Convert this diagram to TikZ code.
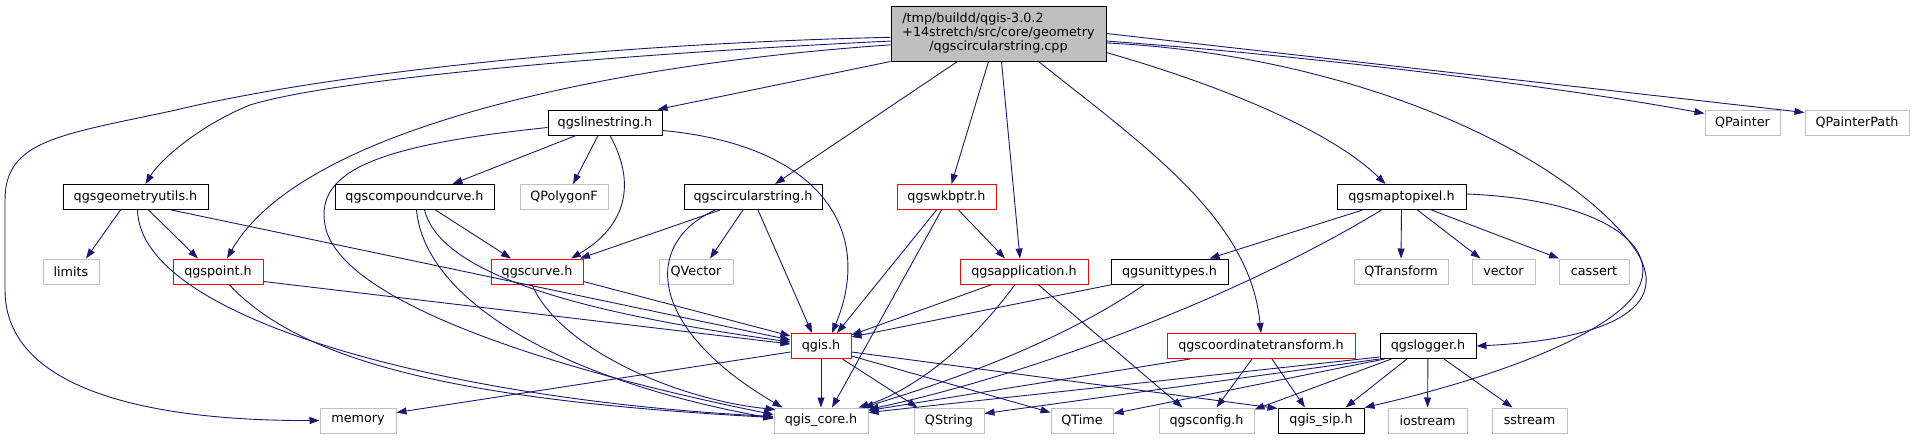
\documentclass[tikz,border=0pt]{standalone}
\usepackage{fontspec}
\setmainfont{DejaVu Sans}
\usepackage{tikz}
\usetikzlibrary{arrows.meta,calc,positioning}

\definecolor{edgeblue}{HTML}{191970}
\definecolor{truncred}{HTML}{FF0000}
\definecolor{extgray}{HTML}{BFBFBF}

\begin{document}
\begin{tikzpicture}[
    x=1pt, y=-1pt,
    block/.style={
        rectangle,
        line width=1pt,
        minimum height=25pt,
        inner sep=0pt,
        align=center,
        font=\fontsize{12.75}{14}\selectfont
    },
    file/.style={block, draw=black},
    trunc/.style={block, draw=truncred},
    ext/.style={block, draw=extgray},
    arrow/.style={
        -{Triangle[length=10pt,width=7pt]},
        draw=edgeblue,
        line width=0.9pt
    }
]
\useasboundingbox (0,0) rectangle (1915,440);

% Top: the source file
\node[block, draw=black, fill=extgray, minimum width=215pt, minimum height=55pt]
    at (998.5,33.5) (main)
    {\begin{tabular}{@{}l@{}}/tmp/buildd/qgis-3.0.2\\+14stretch/src/core/geometry\\\multicolumn{1}{@{}c@{}}{/qgscircularstring.cpp}\end{tabular}};

% Row 1 (y=122)
\node[file, minimum width=114pt] at (605,122.5)  (linestring)   {qgslinestring.h};
\node[ext,  minimum width=75pt]  at (1742.5,122.5) (qpainter)   {QPainter};
\node[ext,  minimum width=104pt] at (1857,122.5) (qpainterpath) {QPainterPath};

% Row 2 (y=197)
\node[file,  minimum width=145pt] at (135.5,197)  (geomutils)  {qgsgeometryutils.h};
\node[file,  minimum width=159pt] at (414.5,197)  (compound)   {qgscompoundcurve.h};
\node[ext,   minimum width=88pt]  at (564,197)    (polygonf)   {QPolygonF};
\node[file,  minimum width=138pt] at (753,197)    (circstr)    {qgscircularstring.h};
\node[trunc, minimum width=99pt]  at (946.5,197)  (wkbptr)     {qgswkbptr.h};
\node[file,  minimum width=129pt] at (1401.5,197) (maptopixel) {qgsmaptopixel.h};

% Row 3 (y=272)
\node[ext,   minimum width=56pt]  at (71,271.5)     (limits)      {limits};
\node[trunc, minimum width=90pt]  at (218,271.5)    (point)       {qgspoint.h};
\node[trunc, minimum width=92pt]  at (537,271.5)    (curve)       {qgscurve.h};
\node[ext,   minimum width=74pt]  at (696,271.5)    (qvector)     {QVector};
\node[trunc, minimum width=128pt] at (1024,271.5)   (application) {qgsapplication.h};
\node[file,  minimum width=117pt] at (1169.5,271.5) (unittypes)   {qgsunittypes.h};
\node[ext,   minimum width=94pt]  at (1401,271.5)   (qtransform)  {QTransform};
\node[ext,   minimum width=63pt]  at (1503.5,271.5) (vector)      {vector};
\node[ext,   minimum width=70pt]  at (1594,271.5)   (cassert)     {cassert};

% Row 4 (y=346)
\node[trunc, minimum width=60pt]  at (821,346)  (qgis)       {qgis.h};
\node[trunc, minimum width=188pt] at (1261,346) (coordtrans) {qgscoordinatetransform.h};
\node[file,  minimum width=96pt]  at (1428,346) (logger)     {qgslogger.h};

% Row 5 (y=421)
\node[ext,  minimum width=76pt] at (358,420.5)    (memory)    {memory};
\node[ext,  minimum width=94pt] at (821,420.5)    (qgiscore)  {qgis\_core.h};
\node[ext,  minimum width=70pt] at (949,420.5)    (qstring)   {QString};
\node[ext,  minimum width=62pt] at (1082,420.5)   (qtime)     {QTime};
\node[ext,  minimum width=95pt] at (1206.5,420.5) (qgsconfig) {qgsconfig.h};
\node[file, minimum width=86pt] at (1321,420.5)   (qgissip)   {qgis\_sip.h};
\node[ext,  minimum width=79pt] at (1427.5,420.5) (iostream)  {iostream};
\node[ext,  minimum width=75pt] at (1529.5,420.5) (sstream)   {sstream};

% Arrows — from the source file
\draw[arrow] (main.182) .. controls (560,45) and (300,80) .. (176,110)
    .. controls (60,135) and (5,140) .. (5,200) -- (5,290)
    .. controls (5,390) and (150,421) .. (memory.west);
\draw[arrow] (main.184) .. controls (600,55) and (330,80) .. (250,105)
    .. controls (200,125) and (160,160) .. ($(geomutils.north)+(10,0)$);
\draw[arrow] (main.186) .. controls (600,65) and (300,130) .. ($(point.north)+(9,0)$);
\draw[arrow] (main.south west) -- ($(linestring.north east)+(-5,0)$);
\draw[arrow] ($(main.south west)+(67,0)$) -- ($(circstr.north)+(22,0)$);
\draw[arrow] ($(main.south)+(-10,0)$) -- ($(wkbptr.north)+(5,0)$);
\draw[arrow] ($(main.south)+(3,0)$) -- ($(application.north)+(-4,0)$);
\draw[arrow] ($(main.south)+(40,0)$) .. controls (1150,150) and (1250,220) .. (coordtrans.north);
\draw[arrow] (main.350) .. controls (1220,85) and (1330,130) .. ($(maptopixel.north)+(-16,0)$);
\draw[arrow] (main.east) -- ($(qpainterpath.west)+(0,-10)$);
\draw[arrow] (main.356) .. controls (1300,55) and (1550,85) .. ($(qpainter.west)+(0,-9)$);
\draw[arrow] (main.355) .. controls (1350,55) and (1560,150) .. (1632,245)
    .. controls (1680,310) and (1600,340) .. (logger.east);

% Arrows — qgslinestring.h
\draw[arrow] ($(linestring.west)+(0,5)$) .. controls (380,145) and (315,170) .. (325,225)
    .. controls (340,310) and (600,380) .. ($(qgiscore.west)+(0,-6)$);
\draw[arrow] ($(linestring.south)+(-29,0)$) -- ($(compound.north)+(38,0)$);
\draw[arrow] ($(linestring.south)+(-7,0)$) -- ($(polygonf.north)+(9,0)$);
\draw[arrow] ($(linestring.south)+(5,0)$) .. controls (640,190) and (620,230) .. ($(curve.north)+(34,0)$);
\draw[arrow] ($(linestring.east)+(0,8)$) .. controls (820,145) and (875,230) .. ($(qgis.north)+(11,0)$);

% Arrows — qgsgeometryutils.h
\draw[arrow] ($(geomutils.south)+(-15,0)$) -- ($(limits.north)+(15,0)$);
\draw[arrow] ($(geomutils.south)+(13,0)$) -- ($(point.north)+(-20,0)$);
\draw[arrow] ($(geomutils.south)+(2,0)$) .. controls (140,320) and (450,400) .. ($(qgiscore.west)+(0,-4)$);
\draw[arrow] ($(geomutils.south east)+(-37,0)$) -- ($(qgis.west)+(0,-6)$);

% Arrows — qgscompoundcurve.h
\draw[arrow] ($(compound.south)+(21,0)$) -- ($(curve.north)+(-26,0)$);
\draw[arrow] ($(compound.south)+(2,0)$) .. controls (425,300) and (560,380) .. ($(qgiscore.west)+(0,-2)$);
\draw[arrow] ($(compound.south)+(10,0)$) .. controls (440,270) and (560,310) .. ($(qgis.west)+(0,-4)$);

% Arrows — qgscircularstring.h
\draw[arrow] ($(circstr.south)+(-33,0)$) -- ($(curve.north)+(43,0)$);
\draw[arrow] ($(circstr.south)+(-10,0)$) -- ($(qvector.north)+(14,0)$);
\draw[arrow] ($(circstr.south)+(5,0)$) -- ($(qgis.north)+(-9,0)$);
\draw[arrow] ($(circstr.south)+(-38,0)$) .. controls (640,245) and (650,330) .. ($(qgiscore.north west)+(9,0)$);

% Arrows — qgswkbptr.h
\draw[arrow] ($(wkbptr.south)+(12,0)$) -- ($(application.north)+(-19,0)$);
\draw[arrow] ($(wkbptr.south)+(-10,0)$) -- ($(qgis.north)+(16,0)$);
\draw[arrow] ($(wkbptr.south)+(-5,0)$) -- ($(qgiscore.north)+(11,0)$);

% Arrows — qgsmaptopixel.h
\draw[arrow] ($(maptopixel.south)+(-39,0)$) -- ($(unittypes.north)+(40,0)$);
\draw[arrow] ($(maptopixel.south)+(-20,0)$) .. controls (1250,290) and (1050,370) .. ($(qgiscore.north east)+(0,2)$);
\draw[arrow] (maptopixel.south) -- (qtransform.north);
\draw[arrow] ($(maptopixel.south)+(16,0)$) -- ($(vector.north)+(-23,0)$);
\draw[arrow] ($(maptopixel.south)+(30,0)$) -- ($(cassert.north)+(-35,0)$);
\draw[arrow] ($(maptopixel.east)+(0,-3)$) .. controls (1620,200) and (1680,260) .. (1620,310)
    .. controls (1560,360) and (1420,395) .. (qgissip.north east);

% Arrows — qgspoint.h, qgscurve.h
\draw[arrow] ($(point.east)+(0,10)$) -- ($(qgis.west)+(0,-2)$);
\draw[arrow] ($(point.south)+(11,0)$) .. controls (300,360) and (450,400) .. ($(qgiscore.west)+(0,-3)$);
\draw[arrow] ($(curve.south east)+(0,-3)$) -- ($(qgis.north west)+(0,3)$);
\draw[arrow] ($(curve.south)+(-5,0)$) .. controls (560,350) and (680,400) .. ($(qgiscore.north west)+(2,2)$);

% Arrows — qgsapplication.h, qgsunittypes.h
\draw[arrow] ($(application.south)+(-32,0)$) -- ($(qgis.north east)+(0,2)$);
\draw[arrow] ($(application.south)+(-9,0)$) .. controls (960,360) and (900,395) .. ($(qgiscore.north east)+(-10,0)$);
\draw[arrow] ($(application.south)+(14,0)$) -- ($(qgsconfig.north)+(-24,0)$);
\draw[arrow] ($(unittypes.south west)+(2,0)$) -- ($(qgis.east)+(0,-9)$);
\draw[arrow] ($(unittypes.south)+(-25,0)$) .. controls (1050,350) and (920,390) .. ($(qgiscore.north east)+(-5,0)$);

% Arrows — qgis.h
\draw[arrow] ($(qgis.west)+(0,6)$) -- ($(memory.east)+(0,-8)$);
\draw[arrow] (qgis) -- (qgiscore);
\draw[arrow] ($(qgis.south east)+(-9,0)$) -- ($(qstring.north west)+(4,0)$);
\draw[arrow] ($(qgis.east)+(0,10)$) -- ($(qtime.west)+(0,-8)$);
\draw[arrow] ($(qgis.east)+(0,6)$) -- ($(qgissip.west)+(0,-12)$);

% Arrows — qgscoordinatetransform.h
\draw[arrow] ($(coordtrans.south)+(-71,0)$) -- ($(qgiscore.east)+(0,-10)$);
\draw[arrow] ($(coordtrans.south)+(-9,0)$) -- ($(qgsconfig.north)+(10,0)$);
\draw[arrow] ($(coordtrans.south)+(11,0)$) -- ($(qgissip.north)+(-16,0)$);

% Arrows — qgslogger.h
\draw[arrow] ($(logger.south west)+(0,-2)$) -- ($(qgiscore.east)+(0,-8)$);
\draw[arrow] (logger.south west) -- ($(qstring.east)+(0,-7)$);
\draw[arrow] ($(logger.south west)+(5,0)$) -- ($(qtime.east)+(0,-7)$);
\draw[arrow] ($(logger.south west)+(12,0)$) -- ($(qgsconfig.north east)+(0,2)$);
\draw[arrow] ($(logger.south)+(-21,0)$) -- ($(qgissip.north east)+(-19,0)$);
\draw[arrow] (logger) -- (iostream);
\draw[arrow] ($(logger.south)+(16,0)$) -- ($(sstream.north)+(-17,0)$);

\end{tikzpicture}
\end{document}
